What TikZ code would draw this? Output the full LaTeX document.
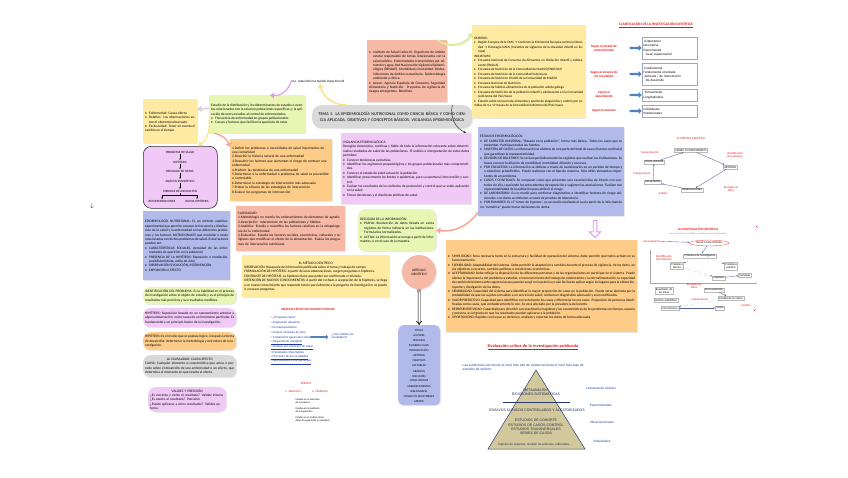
\documentclass[tikz,border=0pt]{standalone}
\usepackage{fontspec}
\setmainfont{Carlito}
\newfontfamily\arialfont{Liberation Sans}
\newfontfamily\symfont{DejaVu Sans}
\usetikzlibrary{arrows.meta,shapes.arrows,shapes.geometric,shadows,positioning}
\definecolor{cyel}{RGB}{254,234,160}
\definecolor{cgrn}{RGB}{233,245,178}
\definecolor{csal}{RGB}{245,185,165}
\definecolor{corg}{RGB}{253,204,136}
\definecolor{clil}{RGB}{241,201,246}
\definecolor{cblu}{RGB}{178,186,236}
\definecolor{cgry}{RGB}{217,217,217}
\definecolor{ckhaki}{RGB}{210,200,155}
\definecolor{cnavy}{RGB}{40,60,120}
\definecolor{clink}{RGB}{30,60,160}
\definecolor{cred}{RGB}{230,20,20}
\definecolor{carrow}{RGB}{79,129,189}
\definecolor{cgarr}{RGB}{218,236,150}
\definecolor{cyarr}{RGB}{252,226,130}
\definecolor{cparr}{RGB}{222,150,240}
\newcommand{\bpt}{\par\noindent\hangindent=4pt\hangafter=1\makebox[4pt][l]{\textbullet}}
\newcommand{\flechita}{{\symfont →}}
\begin{document}
\begin{tikzpicture}[x=1pt, y=-1pt,
    panel/.style={anchor=north west, inner sep=2pt, align=justify, font=\fontsize{3.5}{4.4}\selectfont,
      drop shadow={opacity=0.18, shadow xshift=1pt, shadow yshift=-1pt}},
    pill/.style={panel, rounded corners=7pt},
    flow/.style={font=\fontsize{3.2}{3.6}\selectfont, inner sep=0.5pt},
    cbox/.style={draw=gray!55, fill=white, font=\fontsize{2.9}{3.3}\selectfont, inner sep=1pt, align=center},
    rlab/.style={text=cred, font=\fontsize{2.9}{3.3}\selectfont, align=center, inner sep=0.5pt},
    blab/.style={text=clink, font=\fontsize{3}{3.6}\selectfont\arialfont, inner sep=0.5pt},
    curvy/.style={line width=2pt, -{Triangle[length=4pt,width=6pt]}},
    link/.style={draw=cnavy!80, line width=0.35pt, -{Stealth[length=2pt]}}
  ]
  \useasboundingbox (0,0) rectangle (848,477);

  % left column
  \node[panel, fill=cyel, text width=50pt, minimum height=44pt] (causa) at (143,99) {\bpt Enfermedad: Causa-efecto\bpt Relativo: Las observaciones sobre el elemento observado\bpt Exclusividad: Tener en cuenta el cambio en el tiempo};
  \node[panel, fill=cgrn, text width=92pt, minimum height=38pt] (defin) at (209,95) {Estudio de la distribución y los determinantes de estados o eventos relacionados con la salud en poblaciones específicas, y la aplicación de estos estudios al control de enfermedades.\bpt Frecuencia de enfermedad en grupos poblacionales\bpt Causas y factores que facilitan la aparición de estas};
  \node[font=\fontsize{3.2}{4}\selectfont, inner sep=0.5pt] (autor) at (318,82) {Dra. Isabel Ximena Quidell López Emerid};
  \node[pill, fill=cgry, text width=156pt, minimum height=23pt, align=center, font=\fontsize{4.3}{5.4}\selectfont, rounded corners=9pt] (tema) at (312,105) {TEMA 1. LA EPIDEMIOLOGÍA NUTRICIONAL COMO CIENCIA BÁSICA Y COMO CIENCIA APLICADA. OBJETIVOS Y CONCEPTOS BÁSICOS. VIGILANCIA EPIDEMIOLÓGICA};

  \node[anchor=north west, draw=black!80, line width=0.6pt, fill=clil, rounded corners=8pt, minimum width=74pt, minimum height=62pt, drop shadow={opacity=0.18, shadow xshift=1pt, shadow yshift=-1pt}] (flujo) at (143,146) {};
  \node[flow] (f1) at (180,152) {PROBLEMA DE SALUD};
  \node[flow] (f2) at (180,162) {HIPÓTESIS};
  \node[flow] (f3) at (180,171) {RECOGIDA DE DATOS};
  \node[flow] (f4) at (180,181) {ANÁLISIS ESTADÍSTICO};
  \node[flow] (f5) at (180,191) {MEDIDAS DE ASOCIACIÓN};
  \node[flow] (f6) at (162,201) {RECOMENDACIONES};
  \node[flow] (f7) at (197,201) {NUEVA HIPÓTESIS};
  \foreach \a/\b in {f1/f2,f2/f3,f3/f4,f4/f5}
    \draw[-{Stealth[length=1.8pt]}, line width=0.3pt] (\a) -- (\b);
  \draw[-{Stealth[length=1.8pt]}, line width=0.3pt] (f5.south) -- ++(0,2.5) -| (f6);
  \draw[-{Stealth[length=1.8pt]}, line width=0.3pt] (f5.south) -- ++(0,2.5) -| (f7);

  \node[panel, fill=corg, text width=98pt, minimum height=62pt, align=left] (objet) at (230,139) {1.Definir los problemas o necesidades de salud importantes de una comunidad\\2.Describir la historia natural de una enfermedad\\3.Descubrir los factores que aumentan el riesgo de contraer una enfermedad\\4.Predecir las tendencias de una enfermedad\\5.Determinar si la enfermedad o problema de salud es prevenible o controlable\\6.Determinar la estrategia de intervención más adecuada\\7.Probar la eficacia de las estrategias de intervención\\8.Evaluar los programas de intervención};
  \node[font=\fontsize{6}{6}\selectfont, inner sep=0pt] (flechasola) at (92,206) {$\downarrow$};

  \node[panel, fill=cblu, text width=83pt, minimum height=69pt] (epinut) at (143,211) {EPIDEMIOLOGÍA NUTRICIONAL: Es un método analítico-experimental que permite conocer la frecuencia y distribución de la salud y la enfermedad en los diferentes problemas y los factores NUTRICIONALES que modulan o están relacionados con dichos problemas de salud. Estos factores pueden ser:\bpt CARACTERÍSTICAS SOCIALES, densidad de las enfermedades de aparición en la población\bpt PRESENCIA DE LA HIPÓTESIS: Exposición o mediación, posibilidad (dieta, estilo de vida)\bpt OBSERVACIÓN/EVOLUCIÓN, INTERVENCIÓN\bpt EXPOSICIÓN ó EFECTO};
  \node[pill, fill=cgrn, text width=89pt, minimum height=17pt] (ident) at (143,287) {IDENTIFICACIÓN DEL PROBLEMA: Es la habilidad en el proceso de investigación sobre el objeto de estudio y es el principio de resultados más prácticos y sus resultados medibles.};
  \node[pill, fill=clil, text width=89pt, minimum height=19pt] (hipo1) at (143,308) {HIPÓTESIS: Suposición basada en un razonamiento anterior a alguna observación, como causa de un fenómeno particular. Es fundamental y un principio básico de la investigación.};
  \node[pill, fill=corg, text width=89pt, minimum height=18pt] (hipo2) at (143,332) {HIPÓTESIS: Es el medio que se postula lógico. Después la forma de desarrollar, determinar la metodología y estructura de la investigación.};
  \node[pill, fill=cgry, text width=89pt, minimum height=22pt] (causal) at (143,355) {{\centering LA CAUSALIDAD: CAUSA-EFECTO\par}CAUSA: Cualquier elemento o característica que actúa o precede sobre el desarrollo de una enfermedad o un efecto, que determina el momento en que resulta el efecto.};
  \node[pill, fill=clil, text width=74pt, minimum height=21pt, align=left] (valid) at (148,387) {{\centering VALIDEZ Y PRECISIÓN\par}¿Es correcto y cierto el resultado? Validez interna\\¿Es exacto el resultado? Precisión\\¿Puede aplicarse a otros resultados? Validez externa};

  % centre
  \node[panel, fill=csal, text width=76pt, minimum height=62pt] (isciii) at (367,40) {\bpt Instituto de Salud Carlos III. Organismo de ámbito estatal responsable de temas relacionados con la salud pública. Enfermedades transmisibles por alimentos y agua, Red Nacional de Vigilancia Epidemiológica (RENAVE). Morbilidad y mortalidad. Brotes, infecciones de ámbito comunitario. Epidemiología ambiental y clínica.\bpt Aesan: Agencia Española de Consumo, Seguridad Alimentaria y Nutrición. Proyectos de vigilancia de riesgos emergentes. Boletines.};
  \node[panel, fill=clil, text width=126pt, minimum height=71pt] (vigil) at (341,133) {VIGILANCIA EPIDEMIOLÓGICA\\Recogida sistemática, continua y fiable de toda la información relevante sobre determinados resultados de salud de las poblaciones. El análisis e interpretación de estos datos permiten:\bpt Conocer tendencias evolutivas.\bpt Identificar los regímenes prepatológicos y los grupos poblacionales más comprometidos.\bpt Conocer el estado de salud actual de la población.\bpt Identificar precozmente los brotes o epidemias, para su oportuna intervención y control.\bpt Evaluar los resultados de los métodos de promoción y control que se están aplicando en la salud.\bpt Tomar decisiones y el diseño de políticas de salud.};
  \node[panel, fill=csal, text width=105pt, minimum height=45pt, align=left] (causas) at (236,206) {CAUSALIDAD:\\1.Metodología no mezcla los ordenamientos de elementos de agrado.\\2.Descripción: Intervención de las poblaciones y hábitos.\\3.Analítica: Estudia y cuantifica los factores relativos en la etiopatogenia de la enfermedad.\\4.Evaluativa: Estudia los factores sociales, económicos, culturales y religiosos que modifican el efecto de la alimentación. Evalúa los programas de intervención nutricional.};
  \node[pill, fill=cgrn, text width=74pt, minimum height=42pt] (recog) at (358,209) {RECOGIDA DE LA INFORMACIÓN:\bpt PASIVA: Recolección de datos llevada en varios registros de forma rutinaria en las instituciones. Formularios normalizados.\bpt ACTIVA: La información se recoge a partir de informantes, o en el caso de la muestra.};
  \node[panel, fill=cyel, text width=143pt, minimum height=42pt] (metodo) at (242,255) {{\centering EL MÉTODO CIENTÍFICO\par}OBSERVACIÓN: Búsqueda de información publicada sobre el tema y trabajo de campo.\\FORMULACIÓN DE HIPÓTESIS: A partir de unas observaciones, surgen preguntas o hipótesis.\\CONTRASTE DE HIPÓTESIS: La hipótesis tiene que poder ser confirmada o refutada.\\OBTENCIÓN DE NUEVOS CONOCIMIENTOS: A partir del rechazo o aceptación de la hipótesis, se llega a un nuevo conocimiento que responde total o parcialmente a la pregunta de investigación, se puede ir a nuevas preguntas.};
  \node[circle, fill=csal, minimum size=34pt, align=center, font=\fontsize{3.4}{4.2}\selectfont, drop shadow={opacity=0.18, shadow xshift=1pt, shadow yshift=-1pt}] (artic) at (419,272) {ARTÍCULO\\CIENTÍFICO};
  \node[anchor=north west, fill=cblu, rounded corners=5pt, minimum width=42pt, minimum height=80pt, drop shadow={opacity=0.18, shadow xshift=1pt, shadow yshift=-1pt}] (partes) at (398,325) {};
  \foreach \i/\txt in {0/TÍTULO,1/AUTORES,2/RESUMEN,3/PALABRAS CLAVE,4/INTRODUCCIÓN,5/HIPÓTESIS,6/OBJETIVOS,7/LAS TABLAS,8/GRÁFICOS,9/DISCUSIÓN,10/CONCLUSIONES,11/AGRADECIMIENTOS,12/BIBLIOGRAFÍA,13/CONFLICTO DE INTERESES,14/ANEXOS}
    \node[flow, font=\fontsize{2.9}{3.3}\selectfont] (p\i) at (419,330+5.1*\i) {\txt};
  \draw[double, double distance=1.4pt, line width=0.6pt, -{Implies}] (artic) -- (partes);

  % critical reading
  \node[rlab, font=\fontsize{3.2}{4}\selectfont\bfseries] (acrit) at (308,309) {ANÁLISIS CRÍTICO DE ENSAYOS CLÍNICOS};
  \foreach \i/\txt in {0/{• ¿Pregunta clara?},1/{• Asignación aleatoria},2/{• Enmascaramiento},3/{• Grupos similares al inicio},4/{• Tratamiento igual salvo intervención},5/{\underline{• Seguimiento completo}},6/{\underline{• Análisis por intención de tratar}},7/{• Resultados importantes},8/{\underline{• Precisión de los resultados}},9/{\underline{• Aplicabilidad a mis pacientes}}}
    \node[blab, anchor=west] (q\i) at (270,318+4.9*\i) {\txt};
  \node[single arrow, fill=carrow, minimum height=18pt, minimum width=5pt, single arrow head extend=1.5pt, inner sep=0.6pt] (flv) at (319,337) {};
  \node[blab, align=left, anchor=west] (sonval) at (331,336) {¿Son válidos los\\resultados?};
  \node[rlab, font=\fontsize{3.2}{4}\selectfont] (sesgos) at (306,383) {SESGOS};
  \node[rlab, font=\fontsize{3.2}{4}\selectfont] (ses1) at (293,391) {1. Selección};
  \node[rlab, font=\fontsize{3.2}{4}\selectfont] (ses2) at (320,391) {2. Medición};
  \node[font=\fontsize{2.6}{3.1}\selectfont, align=left, anchor=west] (sv1) at (292,401) {Cambio en la selección\\de los sujetos};
  \node[font=\fontsize{2.6}{3.1}\selectfont, align=left, anchor=west] (sv2) at (292,410) {Cambio en la medición\\de la exposición};
  \node[font=\fontsize{2.6}{3.1}\selectfont, align=left, anchor=west] (sv3) at (292,419) {Cambio en el análisis de los\\datos de exposición y resultados};

  % right top
  \node[panel, fill=cyel, text width=109pt, minimum height=93pt, font=\fontsize{3.35}{4.5}\selectfont] (ambit) at (472,25) {ÁMBITOS:\bpt Región Europea de la OMS \flechita{} Conferencia Ministerial Europea contra la Obesidad \flechita{} Estrategia NAOS (Iniciativa de vigilancia de la obesidad infantil en Europa)\par\noindent INICIATIVAS:\bpt Encuesta Nacional de Consumo de Alimentos en Población Infantil y Adolescente (ENALIA)\bpt Encuesta de Nutrición de la Comunidad de Madrid (ENUCAM)\bpt Encuesta de Nutrición de la Comunidad Valenciana\bpt Encuesta de Nutrición Infantil de la Comunidad de Madrid\bpt Encuesta Nacional de Nutrición\bpt Encuesta de hábitos alimentarios de la población adulta gallega\bpt Encuesta de Nutrición de la población infantil y adolescente en la Comunidad Autónoma del País Vasco\bpt Estudio sobre consumo de alimentos y aporte de plaguicidas y cadmio por comidas de 6 a 12 meses de la Comunidad Autónoma del País Vasco};
  \node[panel, fill=cblu, text width=142pt, minimum height=89pt] (estud) at (478,127) {ESTUDIOS EPIDEMIOLÓGICOS:\bpt DE CARÁCTER UNIVERSAL: ``Basado en la población'', forma más básica. Todos los casos que se presentan. Participan todas las fuentes.\bpt MUESTRA DE CASOS: La información se obtiene de una parte del total de casos (fuentes centinela) que garantizan la representatividad.\bpt REVISIÓN DE BOLETINES: Se revisan periódicamente los registros que realizan las instituciones. Se busca conocer la difusión de morbilidad, mortalidad, difusión y recursos.\bpt POR ENCUESTAS: La información se obtiene a través de cuestionarios en un período de tiempo y a colectivos predefinidos. Puede realizarse con el tipo de muestra. Sólo útiles elementos importantes de un problema.\bpt CASOS Y CONTROLES: Se comparan casos que presentan una característica de interés con controles sin ella, reuniendo los antecedentes de exposición y sugieren las asociaciones. Evalúan con representatividad de la población para atribuir el riesgo.\bpt DE LABORATORIO: Es un medio para confirmar diagnósticos e identificar factores de riesgo adicionales. Los datos se obtienen a través de pruebas de laboratorio.\bpt POR RUMORES: Es el ``rumor de ingresos'', es un medio mediante el cual a partir de la información no ``numérica'' puede tomar decisiones de alerta.};
  \node[panel, fill=corg, text width=187pt, minimum height=92pt] (atrib) at (446,240) {\bpt SIMPLICIDAD: Sería necesaria tanto en la estructura y facilidad de operación del sistema, debe permitir que todos actúen en su funcionamiento.\bpt FLEXIBILIDAD: Adaptabilidad del sistema. Debe permitir la adaptación a cambios durante el proceso de vigilancia, de los datos, en los objetivos o recursos, cambios políticos o condiciones económicas.\bpt ACEPTABILIDAD: Debe reflejar la disposición de las diferentes personas y de las organizaciones en participar en el sistema. Puede afectar la importancia del problema a estudiar, el reconocimiento del trabajo de colaboración y la retroalimentación, la capacidad de cambio del sistema ante sugerencias que puedan surgir en la práctica y cuán fácil es de aplicar según los lugares para la obtención, reporte y divulgación de los datos.\bpt SENSIBILIDAD: Capacidad del sistema para identificar la mayor proporción de casos en la población. Puede verse afectada por la probabilidad de que los sujetos consulten a un servicio de salud, reciban un diagnóstico adecuado y sean notificados.\bpt VALOR PREDICTIVO: Capacidad para identificar correctamente los casos y diferenciar los no casos. Proporción de personas identificadas como casos, que verdaderamente lo son. Se verá afectado por la prevalencia del evento.\bpt REPRESENTATIVIDAD: Capacidad para describir con exactitud la magnitud y las características de los problemas en tiempo, espacio y persona, así el grado en que los resultados pueden aplicarse a la población.\bpt OPORTUNIDAD: Rapidez con la que se obtienen, analizan y reportan los datos de forma adecuada.};
  \node[single arrow, draw=cparr, fill=white, line width=0.9pt, rotate=-90, minimum height=17pt, minimum width=11pt, single arrow head extend=3pt, inner sep=1pt] (baja) at (595,228) {};

  % curved connectors
  \draw[curvy, draw=cgarr] ([xshift=-10pt]isciii.north east) to[bend right=50] ([yshift=-8pt]ambit.north west);
  \draw[curvy, draw=cyarr, line width=1.4pt] ([xshift=-45pt]tema.north) to[bend left=40] ([xshift=2pt]autor.south);
  \draw[curvy, draw=cparr, line width=1.1pt] (autor.west) to[bend left=40] ([xshift=13pt]defin.north);
  \draw[curvy, draw=gray!35, line width=1.6pt] ([yshift=6pt]defin.west) -- ([yshift=12pt]causa.east);
  \draw[curvy, draw=cyarr, line width=1.1pt] ([yshift=-6pt]defin.west) to[bend left=30] ([xshift=18pt]flujo.north);
  \draw[curvy, draw=csal!90!red, line width=1.3pt] ([xshift=5pt]defin.south west) to[bend left=30] ([yshift=-8pt]objet.north west);
  \draw[-{Stealth[length=3pt]}, line width=0.5pt, black!80] ([xshift=-20pt]tema.north east) to[bend right=40] ([xshift=-5pt]vigil.north east);
  \draw[curvy, draw=csal!90!red, line width=1.5pt] ([yshift=4pt]estud.south west) to[bend left=30] (recog.east);

  % classification
  \node[text=cred, font=\fontsize{3.6}{4}\selectfont\bfseries, inner sep=0.5pt] (clasif) at (656,25) {\underline{CLASIFICACIÓN DE LA INVESTIGACIÓN CIENTÍFICA}};
  \foreach \r/\ty/\hh/\lab/\txt in {1/37/22/{Según el estado de\\conocimientos}/{-Exploratoria\\Descriptiva\\Experimental\\- Cuasi experimental},2/63/22/{Según el alcance de\\los resultados}/{-Fundamental\\Fundamental orientada\\-Aplicada / de intervención\\- De desarrollo},3/89/12/{Según el\\experimento}/{-Transversales\\Longitudinales},4/105/12/{Según la muestra}/{Individuales\\Poblacionales}} {
    \pgfmathsetmacro\ym{\ty+\hh/2}
    \node[rlab, font=\fontsize{3.3}{4}\selectfont\bfseries] (seg\r) at (604,\ym) {\lab};
    \node[single arrow, fill=carrow, minimum height=12pt, minimum width=6pt, single arrow head extend=1.5pt, inner sep=0.6pt] (flecha\r) at (635,\ym) {};
    \node[anchor=north west, draw=cnavy!45, fill=white, minimum width=55pt, minimum height=\hh pt, align=left, inner sep=1.5pt, text width=52pt, font=\fontsize{3.3}{4.2}\selectfont, drop shadow={opacity=0.15, shadow xshift=0.8pt, shadow yshift=-0.8pt}] (tipo\r) at (642,\ty) {\txt};
  }

  % scientific method cycle
  \node[rlab] (mettit) at (691,138) {EL MÉTODO CIENTÍFICO};
  \node[cbox] (teor) at (691,150) {TEORÍA O CONOCIMIENTO};
  \node[cbox] (concl) at (654,162) {CONCLUSIONES};
  \node[cbox] (hipc) at (730,167) {HIPÓTESIS};
  \node[cbox] (resul) at (653,182) {RESULTADOS};
  \node[cbox] (obser) at (692,190) {OBSERVACIONES};
  \node[rlab] (lgen) at (650,152) {Generalización};
  \node[rlab] (lide) at (735,155) {Identificación\\del problema};
  \node[rlab] (lint) at (642,174) {Interpretación};
  \node[rlab] (lana) at (663,193) {Análisis};
  \node[rlab] (lrec) at (731,189) {Recogida de\\datos};
  \draw[link] (concl) -- (teor);
  \draw[link] (teor) -- (hipc);
  \draw[link] (hipc) -- (obser);
  \draw[link] (obser) -- (resul);
  \draw[link] (resul) -- (concl);

  % research diagram
  \node[rlab, font=\fontsize{3.2}{4}\selectfont\bfseries] (invtit) at (698,229) {LA INVESTIGACIÓN CIENTÍFICA};
  \node[font=\fontsize{2.3}{3}\selectfont, text=gray, inner sep=0.5pt] (invsub) at (698,234) {Los conocimientos científicos se obtienen por la investigación};
  \node[cbox, ellipse, draw=cred!70, line width=0.4pt, inner sep=1pt] (teo2) at (709,243) {Teoría o conocimiento};
  \node[rlab] (gen2) at (652,241) {Generalización};
  \node[cbox] (pinv) at (700,256) {Problema de investigación};
  \node[rlab] (ide2) at (664,258) {Identificación\\del problema};
  \node[cbox] (pteo) at (677,266) {Problema\\teórico};
  \node[cbox] (ppra) at (731,266) {Problema\\práctico};
  \node[cbox] (hip2) at (719,278) {Hipótesis};
  \node[cbox] (var2) at (745,275) {Variables};
  \coordinate (marcoA) at (650,250);
  \coordinate (marcoB) at (650,283);
  \coordinate (marcoC) at (757,283);
  \draw[gray!70, line width=0.5pt] (marcoA) -- (marcoB) -- (marcoC);
  \node[rlab] (rec2) at (694,286) {Recogida de\\datos};
  \node[cbox] (res2) at (664,291) {Resultados de\\los datos};
  \node[cbox] (proc2) at (714,290) {Procesamiento};
  \node[cbox] (aest2) at (666,300) {Análisis estadístico};
  \node[rlab] (int2) at (700,300) {Interpretación};
  \node[cbox] (adat2) at (731,298) {Análisis de los datos};
  \node[cbox] (con2) at (670,308) {Conclusiones};
  \node[rlab] (ana2) at (746,305) {Análisis};
  \node[cbox] (teo3) at (720,308) {Teoría};
  \draw[link] (gen2) -- (teo2);
  \draw[link] (teo2) -- (pinv);
  \draw[link, dotted] (pinv) -- (pteo);
  \draw[link, dotted] (pinv) -- (ppra);
  \draw[link, dotted] (pteo) -- (hip2);
  \draw[link] (hip2) -- (var2);
  \draw[link] (proc2) -- (adat2);
  \draw[link, dotted] (adat2) -- (con2);
  \draw[link] (con2) -- (teo3);
  \coordinate (tick1) at (756,226);
  \coordinate (tick2) at (754,311);
  \draw[cred, line width=0.5pt] (tick1) -- ++(1.5,1.5);
  \draw[cred, line width=0.5pt] (tick2) -- ++(1.5,-1.5);

  % evidence pyramid
  \node[text=cred, font=\fontsize{4}{5}\selectfont\arialfont\bfseries, inner sep=0.5pt] (evtit) at (533,347) {\underline{Evaluación crítica de la investigación publicada}};
  \node[blab, font=\fontsize{3.3}{4.3}\selectfont\arialfont, align=left, anchor=north west] (evtxt) at (462,363) {Las evidencias van desde el nivel más alto de evidencia hasta el nivel más bajo de\\estudios de opinión:};
  \coordinate (apex) at (536,370);
  \coordinate (bizq) at (488,449);
  \coordinate (bder) at (585,449);
  \coordinate (corteA) at (503,402);
  \coordinate (corteB) at (570,402);
  \fill[ckhaki, draw=cnavy, line width=0.5pt] (apex) -- (bder) -- (bizq) -- cycle;
  \draw[cnavy, line width=0.5pt] (corteA) -- (corteB);
  \node[text=cnavy!70!black, font=\fontsize{3.5}{4.3}\selectfont\arialfont, align=center, inner sep=0pt] (meta) at (536,392) {METAANÁLISIS\\REVISIONES SISTEMÁTICAS};
  \node[text=cnavy!70!black, font=\fontsize{3.5}{4.3}\selectfont\arialfont, inner sep=0pt] (ensay) at (537,410) {ENSAYOS CLÍNICOS CONTROLADOS Y ALEATORIZADOS};
  \node[text=cnavy!70!black, font=\fontsize{3.5}{4.3}\selectfont\arialfont, align=center, inner sep=0pt] (obsv) at (536,427) {ESTUDIOS DE COHORTE\\ESTUDIOS DE CASOS-CONTROL\\ESTUDIOS TRANSVERSALES\\SERIES DE CASOS};
  \node[text=cnavy!70!black, font=\fontsize{3}{3.6}\selectfont\arialfont, inner sep=0pt] (opin) at (535,445) {Opinión de expertos, revisión de artículos, editoriales...};
  \node[blab, font=\fontsize{3.2}{4}\selectfont\arialfont] (nsint) at (601,388) {Literatura de síntesis};
  \node[blab, font=\fontsize{3.2}{4}\selectfont\arialfont] (nexp) at (601,406) {Experimentales};
  \node[blab, font=\fontsize{3.2}{4}\selectfont\arialfont] (nobs) at (602,422) {Observacionales};
  \node[blab, font=\fontsize{3.2}{4}\selectfont\arialfont] (nind) at (602,441) {Individuales};
\end{tikzpicture}
\end{document}
